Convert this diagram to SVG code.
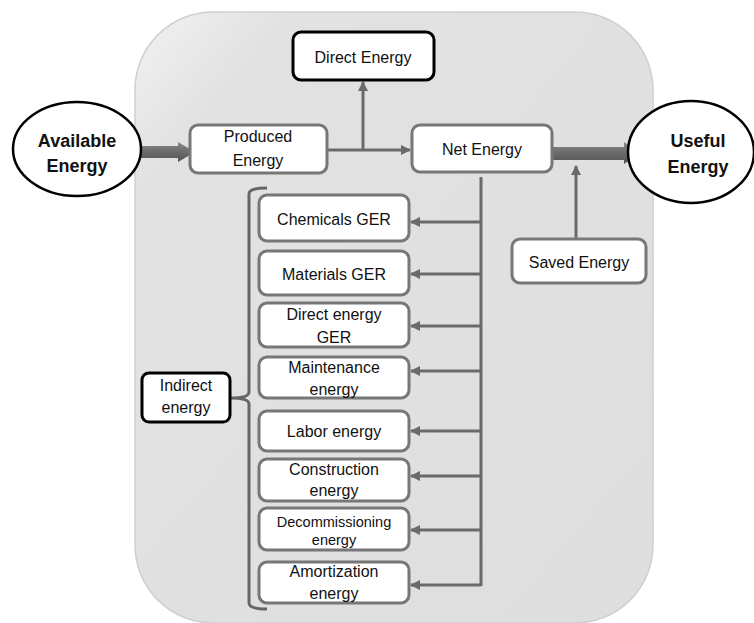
<svg xmlns="http://www.w3.org/2000/svg" width="754" height="623" viewBox="0 0 754 623">
<defs>
<linearGradient id="panelG" x1="0" y1="0" x2="1" y2="1">
<stop offset="0" stop-color="#f2f2f2"/>
<stop offset="0.15" stop-color="#e2e2e2"/>
<stop offset="1" stop-color="#dedede"/>
</linearGradient>
<linearGradient id="arrG" x1="0" y1="0" x2="0" y2="1">
<stop offset="0" stop-color="#8a8a8a"/>
<stop offset="0.5" stop-color="#6a6a6a"/>
<stop offset="1" stop-color="#555"/>
</linearGradient>
<marker id="ah" viewBox="0 0 10 10" refX="9" refY="5" markerWidth="3.5" markerHeight="3.5" orient="auto" markerUnits="strokeWidth">
<path d="M0,0 L10,5 L0,10 z" fill="#6a6a6a"/>
</marker>
<style>
.box{fill:#fff;stroke:#777;stroke-width:3}
.bbox{fill:#fff;stroke:#000;stroke-width:3}
.ell{fill:#fff;stroke:#000;stroke-width:2.5}
.ln{fill:none;stroke:#6a6a6a;stroke-width:3}
.br{fill:none;stroke:#666;stroke-width:3}
.t{font-family:"Liberation Sans",Arial,sans-serif;font-size:16px;fill:#111;text-anchor:middle}
.ts{font-family:"Liberation Sans",Arial,sans-serif;font-size:14.5px;fill:#111;text-anchor:middle}
.tb{font-family:"Liberation Sans",Arial,sans-serif;font-size:18px;font-weight:bold;fill:#111;text-anchor:middle}
</style>
</defs>
<rect width="754" height="623" fill="#fff"/>
<g id="panel">
<rect x="135" y="12" width="518" height="611" rx="78" ry="78" fill="url(#panelG)" stroke="#cfcfcf" stroke-width="1.5"/>
</g>
<g id="connectors">
<polygon points="128,146 178,146 178,142 195,152 178,162 178,158 128,158" fill="url(#arrG)"/>
<polygon points="552,147 624,147 624,142 640,153 624,164 624,160 552,160" fill="url(#arrG)"/>
<path class="ln" d="M327,150 L410,150" marker-end="url(#ah)"/>
<path class="ln" d="M363,150 L363,82" marker-end="url(#ah)"/>
<path class="ln" d="M576,239 L576,166" marker-end="url(#ah)"/>
<path class="ln" d="M481,177 L481,586"/>
<path class="ln" d="M481,222 L411,222" marker-end="url(#ah)"/>
<path class="ln" d="M481,274 L411,274" marker-end="url(#ah)"/>
<path class="ln" d="M481,326 L411,326" marker-end="url(#ah)"/>
<path class="ln" d="M481,371 L411,371" marker-end="url(#ah)"/>
<path class="ln" d="M481,431 L411,431" marker-end="url(#ah)"/>
<path class="ln" d="M481,476 L411,476" marker-end="url(#ah)"/>
<path class="ln" d="M481,530 L411,530" marker-end="url(#ah)"/>
<path class="ln" d="M481,585 L411,585" marker-end="url(#ah)"/>
<path class="br" d="M267,188 Q249,188 249,194 L249,392 Q249,398 231,398 Q249,398 249,404 L249,603 Q249,609 267,609"/>
</g>
<g id="available">
<ellipse class="ell" cx="77" cy="149" rx="64" ry="47"/>
<text class="tb" x="77" y="147">Available</text>
<text class="tb" x="77" y="172">Energy</text>
</g>
<g id="produced">
<rect class="box" x="190" y="125" width="137" height="48" rx="8"/>
<text class="t" x="258" y="142">Produced</text>
<text class="t" x="258" y="166">Energy</text>
</g>
<g id="direct">
<rect class="bbox" x="293" y="32" width="141" height="48" rx="8"/>
<text class="t" x="363" y="63">Direct Energy</text>
</g>
<g id="net">
<rect class="box" x="412" y="125" width="140" height="47" rx="8"/>
<text class="t" x="482" y="155">Net Energy</text>
</g>
<g id="useful">
<ellipse class="ell" cx="691" cy="152" rx="63" ry="51"/>
<text class="tb" x="698" y="147">Useful</text>
<text class="tb" x="698" y="173">Energy</text>
</g>
<g id="saved">
<rect class="box" x="512" y="239" width="134" height="44" rx="8"/>
<text class="t" x="579" y="268">Saved Energy</text>
</g>
<g id="indirect">
<rect class="bbox" x="142" y="373" width="88" height="49" rx="7"/>
<text class="t" x="186" y="391">Indirect</text>
<text class="t" x="186" y="413">energy</text>
</g>
<g id="chemicals">
<rect class="box" x="259" y="195" width="150" height="46" rx="8"/>
<text class="t" x="334" y="225">Chemicals GER</text>
</g>
<g id="materials">
<rect class="box" x="259" y="251" width="150" height="44" rx="8"/>
<text class="t" x="334" y="280">Materials GER</text>
</g>
<g id="directger">
<rect class="box" x="259" y="303" width="150" height="44" rx="8"/>
<text class="t" x="334" y="320">Direct energy</text>
<text class="t" x="334" y="343">GER</text>
</g>
<g id="maintenance">
<rect class="box" x="259" y="357" width="150" height="41" rx="8"/>
<text class="t" x="334" y="373">Maintenance</text>
<text class="t" x="334" y="395">energy</text>
</g>
<g id="labor">
<rect class="box" x="259" y="411" width="150" height="40" rx="8"/>
<text class="t" x="334" y="437">Labor energy</text>
</g>
<g id="construction">
<rect class="box" x="259" y="459" width="150" height="42" rx="8"/>
<text class="t" x="334" y="475">Construction</text>
<text class="t" x="334" y="496">energy</text>
</g>
<g id="decommissioning">
<rect class="box" x="259" y="508" width="150" height="42" rx="8"/>
<text class="ts" x="334" y="527">Decommissioning</text>
<text class="ts" x="334" y="545">energy</text>
</g>
<g id="amortization">
<rect class="box" x="259" y="562" width="150" height="41" rx="8"/>
<text class="t" x="334" y="577">Amortization</text>
<text class="t" x="334" y="599">energy</text>
</g>
</svg>
